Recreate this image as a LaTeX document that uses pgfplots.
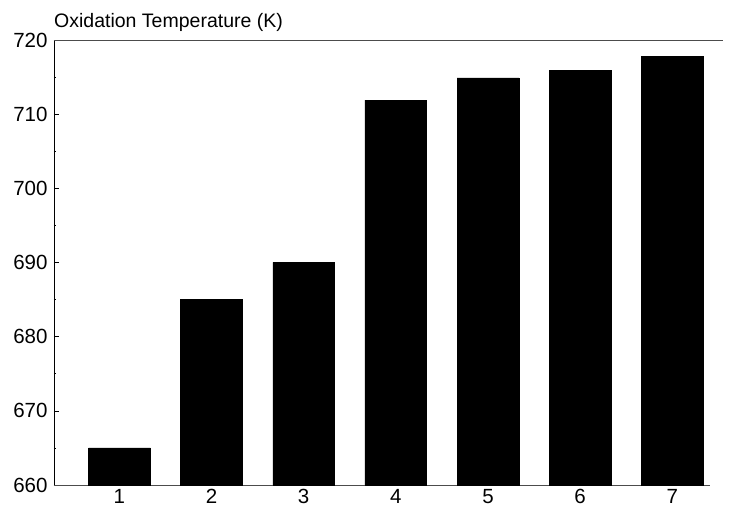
\documentclass[border=0pt]{standalone}
\usepackage{pgfplots}
\pgfplotsset{compat=1.18}
\usepackage{fontspec}
\setmainfont{Liberation Sans}
\begin{document}
\begin{tikzpicture}
\useasboundingbox (-54pt,-26pt) rectangle (675pt,485pt);
\begin{axis}[
  at={(0pt,0pt)}, anchor=south west,
  scale only axis, width=656pt, height=445pt,
  xmin=0.29, xmax=7.41, ymin=660, ymax=720,
  axis lines*=left,
  axis line style={line width=0.6pt},
  x axis line style={-, draw=black!70},
  y axis line style={-},
  xtick={1,2,3,4,5,6,7},
  ytick={660,670,...,720},
  minor y tick num=1,
  major tick length=5pt, minor tick length=2.5pt,
  tick align=inside,
  x tick style={draw=none},
  tick style={line width=0.6pt, black},
  ticklabel style={font=\fontsize{20.5}{22}\selectfont},
  /pgf/number format/assume math mode=true,
  /pgf/number format/1000 sep={},
  yticklabel style={xshift=-3pt},
  xticklabel style={yshift=-1pt},
  clip=false,
]
\addplot[ybar, bar width=0.67, fill=black, draw=black, bar shift=0pt]
  coordinates {(1,665) (2,685) (3,690) (4,711.9) (5,714.9) (6,715.9) (7,717.8)};
\draw[line width=0.6pt, black!70] (rel axis cs:0,1) -- (rel axis cs:1.02,1);
\node[anchor=base west, inner sep=0pt, font=\fontsize{19.5}{22}\selectfont] at (rel axis cs:0,1) [yshift=13pt] {Oxidation Temperature (K)};
\end{axis}
\end{tikzpicture}
\end{document}
